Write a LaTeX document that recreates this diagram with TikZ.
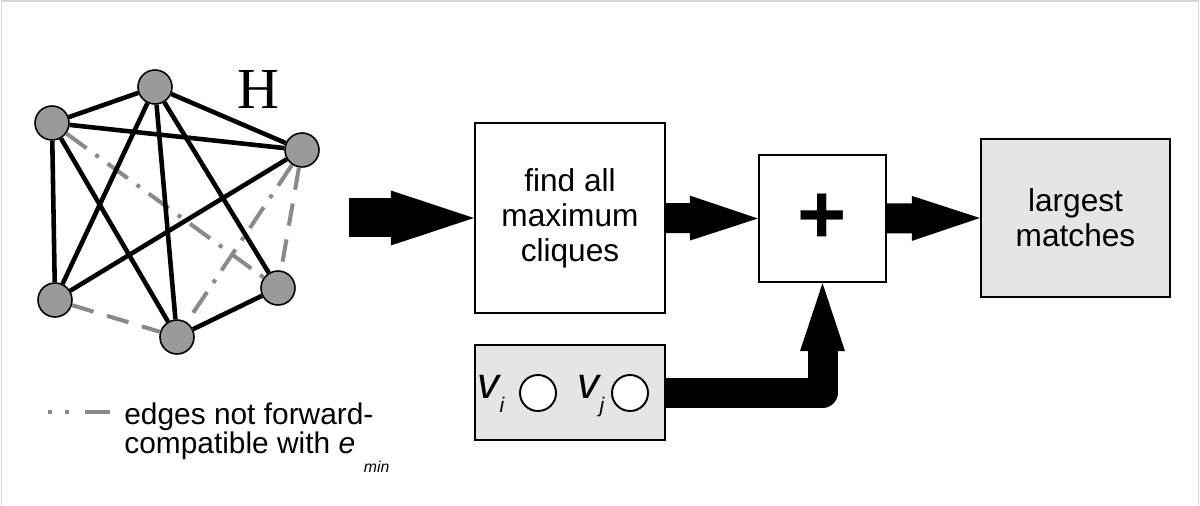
\documentclass[tikz,border=0pt]{standalone}
\usepackage{fontspec}
\setmainfont{Liberation Sans}
\newfontfamily\seriffont{Liberation Serif}
\usepackage{tikz}
\usetikzlibrary{arrows.meta,positioning,calc}
\definecolor{vertexgray}{RGB}{154,154,154}
\definecolor{edgegray}  {RGB}{138,138,138}
\definecolor{boxgray}   {RGB}{229,229,229}
\definecolor{framegray} {RGB}{215,215,215}

\begin{document}
\begin{tikzpicture}[
  vert/.style={circle, draw=black, fill=vertexgray, inner sep=0pt,
               minimum size=0.68cm, line width=0.9pt},
  e1/.style={draw=black,    line width=2.6pt},
  e2/.style={draw=edgegray, line width=2.3pt, dash pattern=on 0.45cm off 0.28cm},
  e3/.style={draw=edgegray, line width=2.3pt,
             dash pattern=on 0.5cm off 0.22cm on 0.08cm off 0.22cm},
  procbox/.style={draw=black, line width=1.3pt, inner sep=0pt, align=center,
                  font=\fontsize{18}{20}\selectfont},
  hole/.style={circle, draw=black, fill=white, inner sep=0pt,
               minimum size=0.72cm, line width=1.1pt},
  fatarrow/.style={line width=0.6cm,
                   -{Triangle[length=1.36cm, width=0.9cm, line width=0pt]}},
]
\useasboundingbox (0,0) rectangle (24,10.1);
\draw[framegray, line width=1pt] (0.03,0) -- (0.03,10.08) -- (23.97,10.08) -- (23.97,0);

% Graph H
\node[vert] (ga) at (1.04, 7.64) {};
\node[vert] (gb) at (3.10, 8.36) {};
\node[vert] (gc) at (6.04, 7.10) {};
\node[vert] (gd) at (1.10, 4.10) {};
\node[vert] (ge) at (3.54, 3.36) {};
\node[vert] (gf) at (5.56, 4.34) {};
\node[font=\seriffont\fontsize{33}{36}\selectfont] (hlab) at (5.16, 8.30) {H};

% Edges
\draw[e2] (gd)--(ge); \draw[e2] (gc)--(gf);
\draw[e3] (ga)--(gf); \draw[e3] (gc)--(ge);
\draw[e1] (ga)--(gb); \draw[e1] (ga)--(gc);
\draw[e1] (ga)--(gd); \draw[e1] (ga)--(ge);
\draw[e1] (gb)--(gc); \draw[e1] (gb)--(gd);
\draw[e1] (gb)--(ge); \draw[e1] (gb)--(gf);
\draw[e1] (gc)--(gd); \draw[e1] (ge)--(gf);

% Legend
\coordinate (lg1) at (0.96, 1.86);
\coordinate (lg2) at (2.20, 1.86);
\draw[draw=edgegray, line width=2.3pt,
      dash pattern=on 0.08cm off 0.26cm on 0.08cm off 0.32cm on 0.6cm]
  (lg1) -- (lg2);
\node[anchor=north west, inner sep=0pt, align=left,
      font=\fontsize{17}{14.7}\selectfont] (legtxt) at (2.48, 2.06)
  {edges not forward-\\compatible with {\itshape e}\hspace{5pt}\raisebox{-11pt}{\fontsize{9}{9}\selectfont\itshape min}};

% Pipeline boxes
\node[procbox, minimum width=3.8cm, minimum height=3.8cm] (cliques) at (11.40, 5.74)
  {find all\\maximum\\cliques};
\node[procbox, minimum width=2.54cm, minimum height=2.54cm] (join) at (16.45, 5.73)
  {\fontsize{48}{48}\selectfont\bfseries +};
\node[procbox, fill=boxgray, minimum width=3.78cm, minimum height=3.16cm] (result)
  at (21.51, 5.74) {largest\\matches};
\node[procbox, fill=boxgray, minimum width=3.8cm, minimum height=1.9cm] (pair)
  at (11.40, 2.25) {};

% Vertex pair
\node[hole] (ci) at (10.76, 2.24) {};
\node[hole] (cj) at (12.60, 2.24) {};
\node[anchor=base, inner sep=0pt, font=\fontsize{25}{25}\selectfont] (vi) at (9.82, 2.14)
  {\itshape v\raisebox{-8.5pt}{\fontsize{12}{12}\selectfont i}};
\node[anchor=base, inner sep=0pt, font=\fontsize{25}{25}\selectfont] (vj) at (11.82, 2.14)
  {\itshape v\raisebox{-8.5pt}{\fontsize{12}{12}\selectfont j}};

% Arrows
\coordinate (hin) at (6.98, 5.74);
\draw[line width=0.78cm, -{Triangle[length=1.66cm, width=1.1cm, line width=0pt]}]
  (hin) -- (cliques.west);
\draw[fatarrow] (cliques.east) -- (join.west);
\draw[fatarrow] (join.east) -- (result.west);
\draw[fatarrow, line join=round] (pair.east) -- (pair.east -| join.south) -- (join.south);

\end{tikzpicture}
\end{document}
